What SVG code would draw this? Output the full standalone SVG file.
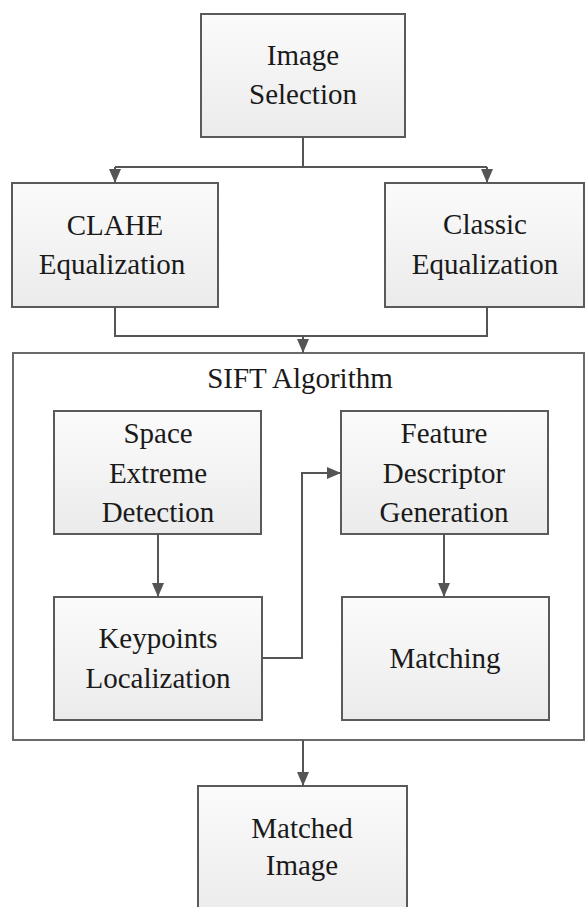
<svg xmlns="http://www.w3.org/2000/svg" width="586" height="907" viewBox="0 0 586 907">
<defs>
<linearGradient id="g" x1="0" y1="0" x2="0" y2="1">
<stop offset="0" stop-color="#fbfbfb"/>
<stop offset="1" stop-color="#ebebeb"/>
</linearGradient>
<marker id="arr" viewBox="0 0 14 14" refX="14" refY="7" markerWidth="14" markerHeight="14" markerUnits="userSpaceOnUse" orient="auto">
<path d="M0,1 L14,7 L0,13 Z" fill="#555"/>
</marker>
</defs>
<style>
.box{fill:url(#g);stroke:#5a5a5a;stroke-width:2}
.outer{fill:#fff;stroke:#6a6a6a;stroke-width:2}
.t{font-size:29px;fill:#1a1a1a;text-anchor:middle}
.c{fill:none;stroke:#555;stroke-width:2}
</style>
<rect width="586" height="907" fill="#fff"/>
<g font-family="'Liberation Serif', 'Times New Roman', 'DejaVu Serif', serif">
<g id="sift">
<rect class="outer" x="13" y="353" width="571" height="387"/>
<text class="t" x="300" y="388">SIFT Algorithm</text>
</g>
<g id="image-selection">
<rect class="box" x="201" y="14" width="204" height="123"/>
<text class="t" x="303" y="65">Image</text>
<text class="t" x="303" y="104">Selection</text>
</g>
<g id="clahe">
<rect class="box" x="12" y="183" width="206" height="124"/>
<text class="t" x="115" y="235">CLAHE</text>
<text class="t" x="112" y="274">Equalization</text>
</g>
<g id="classic">
<rect class="box" x="385" y="183" width="199" height="124"/>
<text class="t" x="485" y="234">Classic</text>
<text class="t" x="485" y="274">Equalization</text>
</g>
<g id="space">
<rect class="box" x="54" y="411" width="207" height="123"/>
<text class="t" x="158" y="443">Space</text>
<text class="t" x="158" y="483">Extreme</text>
<text class="t" x="158" y="522">Detection</text>
</g>
<g id="feature">
<rect class="box" x="341" y="411" width="207" height="123"/>
<text class="t" x="444" y="443">Feature</text>
<text class="t" x="444" y="483">Descriptor</text>
<text class="t" x="444" y="522">Generation</text>
</g>
<g id="keypoints">
<rect class="box" x="54" y="597" width="208" height="123"/>
<text class="t" x="158" y="648">Keypoints</text>
<text class="t" x="158" y="688">Localization</text>
</g>
<g id="matching">
<rect class="box" x="342" y="597" width="207" height="123"/>
<text class="t" x="445" y="668">Matching</text>
</g>
<g id="matched">
<rect class="box" x="198" y="786" width="209" height="130"/>
<text class="t" x="302" y="838">Matched</text>
<text class="t" x="302" y="875">Image</text>
</g>
</g>
<g id="connectors">
<path class="c" d="M303,137 V167 M115,167 H487"/>
<path class="c" d="M115,167 V183" marker-end="url(#arr)"/>
<path class="c" d="M487,167 V183" marker-end="url(#arr)"/>
<path class="c" d="M115,307 V336 H487 V307"/>
<path class="c" d="M303,336 V353" marker-end="url(#arr)"/>
<path class="c" d="M158,534 V597" marker-end="url(#arr)"/>
<path class="c" d="M262,658 H302 V473 H341" marker-end="url(#arr)"/>
<path class="c" d="M444,534 V597" marker-end="url(#arr)"/>
<path class="c" d="M303,740 V786" marker-end="url(#arr)"/>
</g>
</svg>
